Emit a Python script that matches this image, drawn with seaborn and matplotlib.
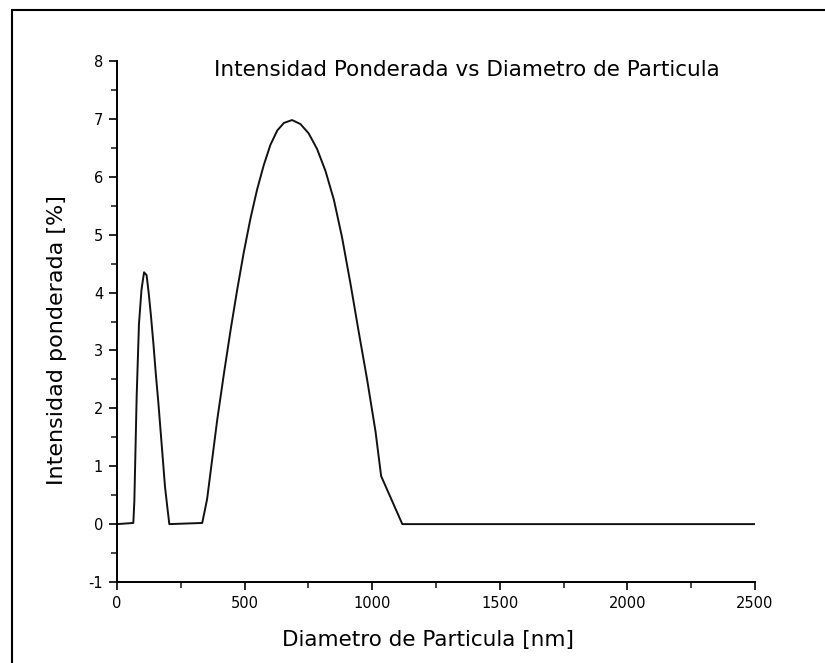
import matplotlib
matplotlib.use("Agg")
import matplotlib.pyplot as plt
from matplotlib.patches import Rectangle
from matplotlib.ticker import MultipleLocator
import seaborn as sns
import pandas as pd

# Data
diametro = [0, 64, 68, 77, 86, 96, 106, 116, 124, 133, 143, 152, 162, 171, 180, 188, 197, 205,
            334, 353, 373, 393, 419, 445, 471, 497, 523, 549, 575, 601, 628, 654, 686, 719,
            751, 784, 817, 850, 882, 915, 948, 980, 1013, 1035, 1118, 2500]
intensidad = [0.0, 0.02, 0.4, 2.2, 3.45, 4.05, 4.35, 4.3, 4.0, 3.6, 3.1, 2.6, 2.1, 1.6, 1.1, 0.65, 0.3, 0.0,
              0.02, 0.43, 1.12, 1.81, 2.6, 3.35, 4.05, 4.7, 5.28, 5.78, 6.2, 6.55, 6.8, 6.93, 6.98, 6.91,
              6.75, 6.48, 6.1, 5.6, 4.95, 4.15, 3.3, 2.5, 1.6, 0.83, 0.0, 0.0]

titulo = "Intensidad Ponderada vs Diametro de Particula"
xlabel = "Diametro de Particula [nm]"
ylabel = "Intensidad ponderada [%]"

df = pd.DataFrame({"d": diametro, "i": intensidad})

sns.set_theme(style="ticks")
plt.rcParams["font.family"] = ["DejaVu Sans"]
plt.rcParams["axes.unicode_minus"] = False

W, H = 825, 663
fig = plt.figure(figsize=(W/100, H/100), dpi=100)
ax = fig.add_axes([117/W, 1-582/H, (755-117)/W, (582-61)/H])

sns.lineplot(data=df, x="d", y="i", ax=ax, sort=False, color="#111111", linewidth=1.4)

ax.set_xlim(0, 2500)
ax.set_ylim(-1, 8)
ax.xaxis.set_major_locator(MultipleLocator(500))
ax.xaxis.set_minor_locator(MultipleLocator(250))
ax.yaxis.set_major_locator(MultipleLocator(1))
ax.yaxis.set_minor_locator(MultipleLocator(0.5))
ax.tick_params(which="major", direction="out", length=6, width=1.2, labelsize=10.5, colors="black", pad=4)
ax.tick_params(which="minor", direction="out", length=4, width=1.2)
for s in ["top", "right"]:
    ax.spines[s].set_visible(False)
for s in ["left", "bottom"]:
    ax.spines[s].set_linewidth(1.4)
    ax.spines[s].set_color("black")

ax.set_xlabel(xlabel, fontsize=15.5, color="black")
ax.set_ylabel(ylabel, fontsize=16, color="black")
ax.xaxis.set_label_coords((428-117)/638, (582-630)/521)
ax.yaxis.set_label_coords((67-117)/638, (582-340)/521)
ax.text((467-117)/638, (582-70)/521, titulo, transform=ax.transAxes, ha="center", va="center",
        fontsize=15.5, color="black")

fig.patches.append(Rectangle((12/W, -0.1), 1.2, 1.1 - 10/H, transform=fig.transFigure,
                             fill=False, edgecolor="black", linewidth=1.5))

fig.savefig("out.png", dpi=100, facecolor="white")
